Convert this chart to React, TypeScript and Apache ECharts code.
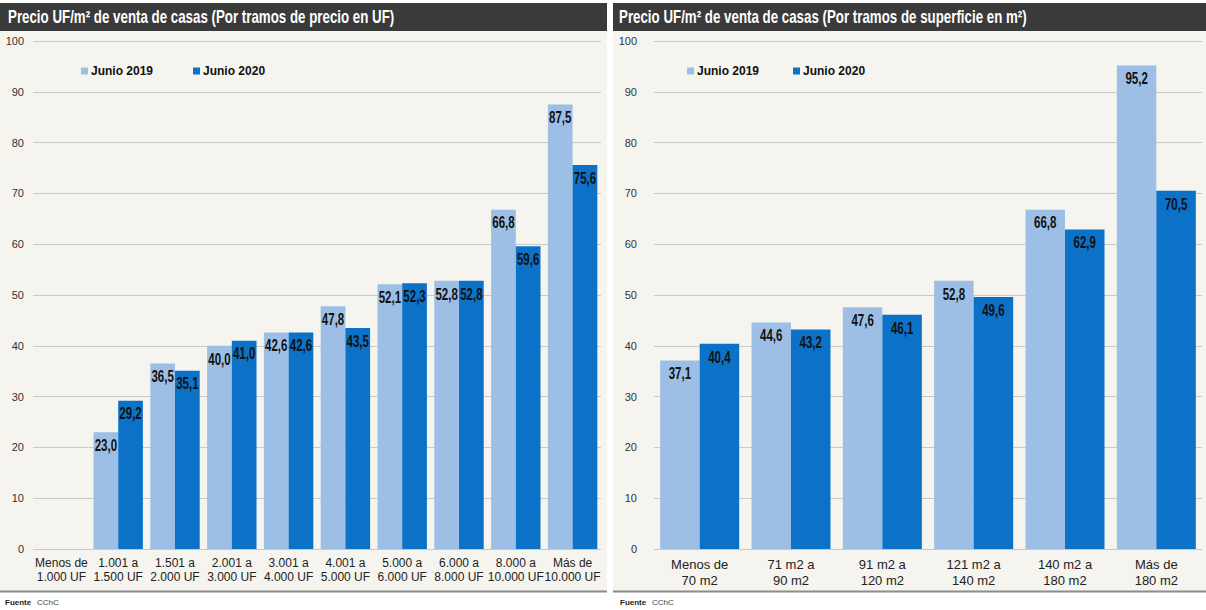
import React, { useEffect, useRef } from "react";
import * as echarts from "echarts";

const leftCategories = [
  "Menos de\n1.000 UF",
  "1.001 a\n1.500 UF",
  "1.501 a\n2.000 UF",
  "2.001 a\n3.000 UF",
  "3.001 a\n4.000 UF",
  "4.001 a\n5.000 UF",
  "5.000 a\n6.000 UF",
  "6.000 a\n8.000 UF",
  "8.000 a\n10.000 UF",
  "Más de\n10.000 UF",
];
const left2019 = [null, 23.0, 36.5, 40.0, 42.6, 47.8, 52.1, 52.8, 66.8, 87.5];
const left2020 = [null, 29.2, 35.1, 41.0, 42.6, 43.5, 52.3, 52.8, 59.6, 75.6];

const rightCategories = [
  "Menos de\n70 m2",
  "71 m2 a\n90 m2",
  "91 m2 a\n120 m2",
  "121 m2 a\n140 m2",
  "140 m2 a\n180 m2",
  "Más de\n180 m2",
];
const right2019 = [37.1, 44.6, 47.6, 52.8, 66.8, 95.2];
const right2020 = [40.4, 43.2, 46.1, 49.6, 62.9, 70.5];

const leftTitle = "Precio UF/m² de venta de casas (Por tramos de precio en UF)";
const rightTitle = "Precio UF/m² de venta de casas (Por tramos de superficie en m²)";
const seriesNames = ["Junio 2019", "Junio 2020"];
const sourceLabel = "Fuente";
const sourceName = "CChC";

const FONT = "'Liberation Sans', Arial, sans-serif";
const C2019 = "#9dbfe6";
const C2020 = "#0b72c8";
const BG = "#f5f4ef";

const LEFT_GAP = 0.13;
const RIGHT_GAP = 0.135;

export default function App() {
  const ref = useRef<HTMLDivElement>(null);
  useEffect(() => {
    if (!ref.current) return;
    const chart = echarts.init(ref.current, null, { renderer: "svg" });

    const yAxisBase = (gridIndex: number, margin: number) => ({
      type: "value",
      gridIndex,
      min: 0,
      max: 100,
      interval: 10,
      axisLine: { show: false },
      axisTick: { show: false },
      axisLabel: { color: "#333", fontSize: 11, fontFamily: FONT, margin },
      splitLine: { lineStyle: { color: "#c9c9c6", width: 1 } },
    });
    const xAxisBase = (gridIndex: number, data: string[], fontSize: number, lh: number) => ({
      type: "category",
      gridIndex,
      data,
      axisLine: { show: false },
      axisTick: { show: false },
      axisLabel: {
        color: "#222",
        fontSize,
        lineHeight: lh,
        fontFamily: FONT,
        margin: 7,
        interval: 0,
      },
    });
    const legendBase = (left: number, top: number, gap: number) => ({
      left,
      top,
      itemWidth: 7,
      itemHeight: 7,
      itemGap: gap,
      icon: "rect",
      data: seriesNames,
      textStyle: { fontFamily: FONT, fontWeight: "bold", fontSize: 12, color: "#111", padding: [0, 0, 0, -2] },
    });
    const titleText = (x: number, text: string) => ({
      type: "text",
      x,
      y: 17,
      scaleX: 0.74,
      style: {
        text,
        x: 0,
        y: 0,
        fill: "#ffffff",
        font: `bold 18px ${FONT}`,
        verticalAlign: "middle",
      },
    });

    const labelRows = (a: (number | null)[], b: (number | null)[]) => {
      const rows: number[][] = [];
      a.forEach((v, i) => { if (v != null) rows.push([i, v, 0]); });
      b.forEach((v, i) => { if (v != null) rows.push([i, v, 1]); });
      return rows;
    };
    const makeLabelRenderer = (gap: number) => (params: any, api: any) => {
      const cat = api.value(0);
      const val = api.value(1);
      const s = api.value(2);
      const pt = api.coord([cat, val]);
      const catW = api.size([1, 0])[0];
      const barW = (catW * (1 - gap)) / 2;
      const cx = pt[0] + (s - 0.5) * barW;
      return {
        type: "text",
        x: cx,
        y: pt[1] + 5,
        scaleX: 0.72,
        style: {
          text: Number(val).toFixed(1).replace(".", ","),
          x: 0,
          y: 0,
          align: "center",
          verticalAlign: "top",
          fill: "#111",
          font: `bold 16px ${FONT}`,
        },
      };
    };

    chart.setOption({
      animation: false,
      backgroundColor: "#ffffff",
      graphic: [
        { type: "rect", shape: { x: 0, y: 3, width: 607, height: 589 }, style: { fill: BG }, z: -10 },
        { type: "rect", shape: { x: 613, y: 3, width: 593, height: 589 }, style: { fill: BG }, z: -10 },
        { type: "rect", shape: { x: 0, y: 3, width: 607, height: 28 }, style: { fill: "#3a3a3a" }, z: -5 },
        { type: "rect", shape: { x: 613, y: 3, width: 593, height: 28 }, style: { fill: "#3a3a3a" }, z: -5 },
        { type: "line", shape: { x1: 0, y1: 591.5, x2: 607, y2: 591.5 }, style: { stroke: "#8c8c8c", lineWidth: 2 } },
        { type: "line", shape: { x1: 613, y1: 591.5, x2: 1206, y2: 591.5 }, style: { stroke: "#8c8c8c", lineWidth: 2 } },
        titleText(8, leftTitle),
        titleText(619, rightTitle),
        { type: "text", x: 5, y: 602, style: { text: sourceLabel, fill: "#222", font: `bold 8px ${FONT}`, verticalAlign: "middle" } },
        { type: "text", x: 37, y: 602, style: { text: sourceName, fill: "#444", font: `8px ${FONT}`, verticalAlign: "middle" } },
        { type: "text", x: 620, y: 602, style: { text: sourceLabel, fill: "#222", font: `bold 8px ${FONT}`, verticalAlign: "middle" } },
        { type: "text", x: 652, y: 602, style: { text: sourceName, fill: "#444", font: `8px ${FONT}`, verticalAlign: "middle" } },
      ],
      legend: [legendBase(76, 60, 40), legendBase(682, 60, 34)],
      grid: [
        { left: 33, top: 41, width: 568, height: 508 },
        { left: 654, top: 41, width: 548, height: 508 },
      ],
      xAxis: [
        xAxisBase(0, leftCategories, 12, 14),
        xAxisBase(1, rightCategories, 13, 16),
      ],
      yAxis: [yAxisBase(0, 9), yAxisBase(1, 17)],
      series: [
        {
          name: seriesNames[0], type: "bar", xAxisIndex: 0, yAxisIndex: 0,
          data: left2019, barGap: "0%", barCategoryGap: `${LEFT_GAP * 100}%`,
          itemStyle: { color: C2019 },
        },
        {
          name: seriesNames[1], type: "bar", xAxisIndex: 0, yAxisIndex: 0,
          data: left2020, barGap: "0%", barCategoryGap: `${LEFT_GAP * 100}%`,
          itemStyle: { color: C2020 },
        },
        {
          name: seriesNames[0], type: "bar", xAxisIndex: 1, yAxisIndex: 1,
          data: right2019, barGap: "0%", barCategoryGap: `${RIGHT_GAP * 100}%`,
          itemStyle: { color: C2019 },
        },
        {
          name: seriesNames[1], type: "bar", xAxisIndex: 1, yAxisIndex: 1,
          data: right2020, barGap: "0%", barCategoryGap: `${RIGHT_GAP * 100}%`,
          itemStyle: { color: C2020 },
        },
        {
          name: "labels-left", type: "custom", xAxisIndex: 0, yAxisIndex: 0,
          data: labelRows(left2019, left2020), encode: { x: 0, y: 1 },
          renderItem: makeLabelRenderer(LEFT_GAP), silent: true, z: 10,
        },
        {
          name: "labels-right", type: "custom", xAxisIndex: 1, yAxisIndex: 1,
          data: labelRows(right2019, right2020), encode: { x: 0, y: 1 },
          renderItem: makeLabelRenderer(RIGHT_GAP), silent: true, z: 10,
        },
      ],
    });
    return () => chart.dispose();
  }, []);
  return (
    <div
      ref={ref}
      style={{ position: "absolute", left: 0, top: 0, width: 1206, height: 610 }}
    />
  );
}
